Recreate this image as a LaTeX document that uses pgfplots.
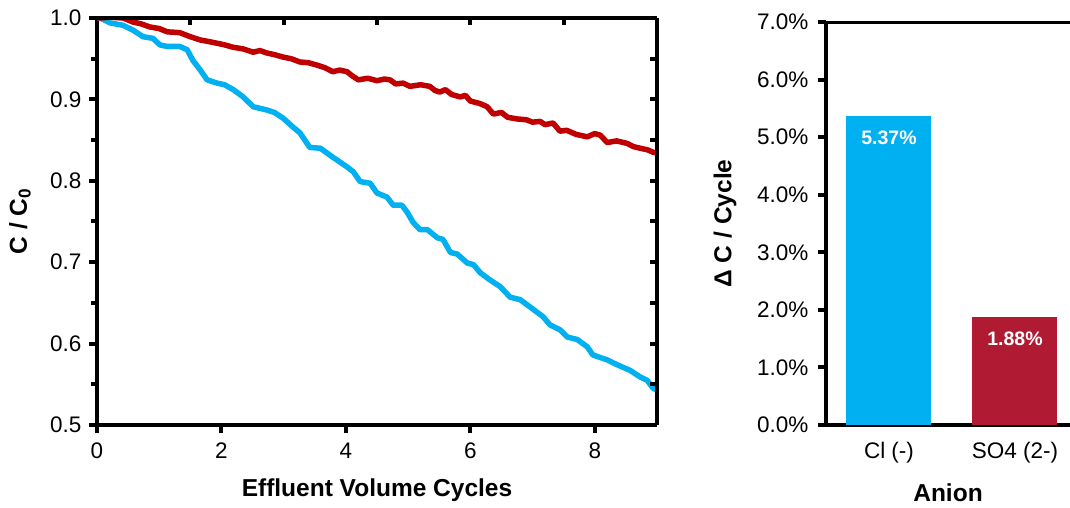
\documentclass[border=0pt]{standalone}
\usepackage{pgfplots}
\pgfplotsset{compat=1.18}
\usepackage{fontspec}
\setmainfont{Liberation Sans}
\definecolor{lblue}{HTML}{00B0F0}
\definecolor{dred}{HTML}{C00000}
\definecolor{bred}{HTML}{B01A32}
\newcommand{\tickfont}{\fontsize{22.5}{26}\selectfont}
\newcommand{\labfont}{\fontsize{24.5}{28}\selectfont\bfseries}

\pgfplotstableread{
x y
0 1.0
0.05 1.0
0.21 0.994
0.42 0.991
0.58 0.985
0.74 0.977
0.90 0.975
1.01 0.967
1.13 0.965
1.33 0.965
1.45 0.961
1.54 0.948
1.66 0.936
1.77 0.924
1.93 0.920
2.05 0.918
2.19 0.912
2.35 0.903
2.51 0.891
2.73 0.887
2.85 0.884
2.99 0.877
3.15 0.866
3.26 0.859
3.42 0.841
3.59 0.840
3.79 0.829
4.02 0.817
4.12 0.811
4.23 0.799
4.39 0.797
4.50 0.785
4.66 0.780
4.76 0.770
4.90 0.770
4.98 0.762
5.08 0.749
5.19 0.740
5.31 0.740
5.47 0.730
5.56 0.728
5.68 0.712
5.79 0.710
5.95 0.699
6.05 0.697
6.16 0.687
6.32 0.678
6.48 0.670
6.64 0.657
6.80 0.654
6.96 0.645
7.17 0.633
7.28 0.623
7.44 0.617
7.56 0.608
7.72 0.605
7.88 0.596
7.97 0.586
8.20 0.580
8.36 0.574
8.57 0.567
8.73 0.559
8.84 0.555
8.94 0.545
9.0 0.543
}\bluedata

\pgfplotstableread{
x y
0 1.0
0.05 1.0
0.20 1.001
0.42 1.0
0.58 0.995
0.70 0.993
0.85 0.989
1.00 0.987
1.13 0.983
1.33 0.982
1.50 0.977
1.66 0.973
1.80 0.971
1.93 0.969
2.05 0.967
2.19 0.964
2.35 0.962
2.51 0.958
2.62 0.960
2.73 0.957
2.85 0.955
2.99 0.952
3.12 0.950
3.26 0.946
3.40 0.945
3.54 0.942
3.66 0.939
3.79 0.934
3.90 0.936
4.02 0.934
4.10 0.929
4.20 0.924
4.35 0.926
4.50 0.923
4.62 0.925
4.71 0.924
4.80 0.919
4.92 0.920
5.03 0.916
5.20 0.918
5.35 0.916
5.43 0.911
5.51 0.909
5.60 0.912
5.70 0.906
5.84 0.903
5.92 0.905
6.00 0.898
6.15 0.895
6.27 0.891
6.37 0.882
6.50 0.884
6.60 0.878
6.75 0.876
6.90 0.875
7.00 0.872
7.12 0.873
7.20 0.869
7.33 0.871
7.44 0.861
7.55 0.862
7.70 0.857
7.88 0.854
8.00 0.858
8.09 0.856
8.20 0.847
8.35 0.849
8.52 0.846
8.62 0.842
8.73 0.840
8.85 0.838
8.94 0.835
9.0 0.834
}\reddata

\begin{document}
\begin{tikzpicture}[x=1pt,y=1pt]
\path[use as bounding box] (0,0) rectangle (1070,508);

% ---------- left panel ----------
\begin{axis}[
  at={(97pt,83pt)}, anchor=south west,
  scale only axis, width=560pt, height=407pt,
  xmin=0, xmax=9, ymin=0.5, ymax=1.0,
  axis x line*=bottom, axis y line*=left,
  axis line style={line width=4.5pt, -, black},
  xtick={0,2,4,6,8},
  ytick={0.5,0.6,0.7,0.8,0.9,1.0},
  minor ytick={0.55,0.65,0.75,0.85,0.95},
  tick align=outside,
  major tick length=8pt, minor tick length=6pt,
  tick style={line width=4pt, black},
  /pgf/number format/assume math mode=true,
  yticklabel style={xshift=-4pt, /pgf/number format/.cd, fixed, fixed zerofill, precision=1},
  xticklabel style={yshift=-6pt},
  tick label style={font=\tickfont},
  ylabel={C / C\textsubscript{0}},
  xlabel={Effluent Volume Cycles},
  every axis y label/.style={at={(rel axis cs:0,0.5)}, xshift=-77pt, rotate=90, anchor=center, font=\labfont},
  every axis x label/.style={at={(rel axis cs:0.5,0)}, yshift=-65pt, anchor=center, font=\labfont},
]
\addplot[lblue, line width=5.5pt, line join=round] table[x=x,y=y] {\bluedata};
\addplot[dred, line width=5.5pt, line join=round] table[x=x,y=y] {\reddata};
\end{axis}

\begin{axis}[
  at={(97pt,83pt)}, anchor=south west,
  scale only axis, width=560pt, height=407pt,
  xmin=0, xmax=9, ymin=0.5, ymax=1.0,
  axis x line*=top, axis y line*=right,
  axis line style={line width=4.5pt, -, black},
  xtick={1.5,3,4.5,6,7.5},
  ytick={0.55,0.6,0.65,0.7,0.75,0.8,0.85,0.9,0.95},
  xticklabels={}, yticklabels={},
  tick align=inside,
  major tick length=7pt,
  tick style={line width=4pt, black},
]
\end{axis}

% ---------- right panel ----------
\begin{axis}[
  at={(826pt,83pt)}, anchor=south west,
  scale only axis, width=244pt, height=403pt,
  xmin=-0.5, xmax=1.437, ymin=0, ymax=7,
  axis x line*=bottom, axis y line*=left,
  axis line style={line width=4.5pt, -, black},
  ybar, bar width=85pt,
  xtick={0,1}, xticklabels={Cl (-), SO4 (2-)},
  xtick style={draw=none},
  xticklabel style={yshift=-6pt},
  ytick={0,1,2,3,4,5,6,7},
  yticklabels={0.0\%,1.0\%,2.0\%,3.0\%,4.0\%,5.0\%,6.0\%,7.0\%},
  yticklabel style={xshift=-6pt},
  tick align=outside,
  major tick length=8pt,
  ytick style={line width=4pt, black},
  tick label style={font=\tickfont},
  ylabel={Δ C / Cycle},
  xlabel={Anion},
  every axis y label/.style={at={(rel axis cs:0,0.5)}, xshift=-101pt, rotate=90, anchor=center, font=\labfont},
  every axis x label/.style={at={(rel axis cs:0.5,0)}, yshift=-68pt, anchor=center, font=\labfont},
  nodes near coords={\pgfmathprintnumber[fixed,fixed zerofill,precision=2,assume math mode=true]{\pgfplotspointmeta}\%},
  every node near coord/.append style={text=white, font=\fontsize{19.5}{23}\selectfont\bfseries, anchor=center, yshift=-22pt},
]
\addplot[fill=lblue, draw=none, bar shift=0pt] coordinates {(0,5.37)};
\addplot[fill=bred, draw=none, bar shift=0pt] coordinates {(1,1.88)};
\draw[line width=4.5pt, black] (rel axis cs:0,1) -- (rel axis cs:1.1,1);
\end{axis}
\end{tikzpicture}
\end{document}
